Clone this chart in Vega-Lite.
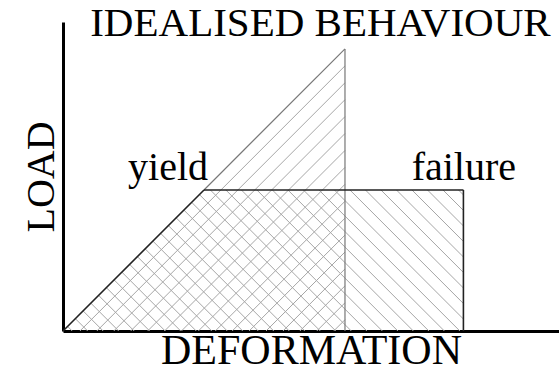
{
  "$schema": "https://vega.github.io/schema/vega-lite/v6.json",
  "width": 496,
  "height": 309,
  "autosize": {"type": "none"},
  "padding": {"left": 63, "top": 22, "right": 0, "bottom": 37},
  "background": "white",
  "config": {
    "view": {"stroke": null},
    "font": "Liberation Serif",
    "axis": {"domainColor": "black", "domainWidth": 3, "ticks": false, "labels": false, "grid": false,
             "titleFont": "Liberation Serif", "titleFontSize": 40, "titleFontWeight": "normal", "titleColor": "black", "titleBaseline": "alphabetic"}
  },
  "datasets": {
    "segments": [
      {"part": "hatch up", "deformation": 1.2, "load": 0, "deformation2": 20, "load2": 18.8},
      {"part": "hatch up", "deformation": 2.4, "load": 0, "deformation2": 20, "load2": 17.6},
      {"part": "hatch up", "deformation": 3.6, "load": 0, "deformation2": 20, "load2": 16.4},
      {"part": "hatch up", "deformation": 4.8, "load": 0, "deformation2": 20, "load2": 15.2},
      {"part": "hatch up", "deformation": 6.0, "load": 0, "deformation2": 20, "load2": 14.0},
      {"part": "hatch up", "deformation": 7.2, "load": 0, "deformation2": 20, "load2": 12.8},
      {"part": "hatch up", "deformation": 8.4, "load": 0, "deformation2": 20, "load2": 11.6},
      {"part": "hatch up", "deformation": 9.6, "load": 0, "deformation2": 20, "load2": 10.4},
      {"part": "hatch up", "deformation": 10.8, "load": 0, "deformation2": 20, "load2": 9.2},
      {"part": "hatch up", "deformation": 12.0, "load": 0, "deformation2": 20, "load2": 8.0},
      {"part": "hatch up", "deformation": 13.2, "load": 0, "deformation2": 20, "load2": 6.8},
      {"part": "hatch up", "deformation": 14.4, "load": 0, "deformation2": 20, "load2": 5.6},
      {"part": "hatch up", "deformation": 15.6, "load": 0, "deformation2": 20, "load2": 4.4},
      {"part": "hatch up", "deformation": 16.8, "load": 0, "deformation2": 20, "load2": 3.2},
      {"part": "hatch up", "deformation": 18.0, "load": 0, "deformation2": 20, "load2": 2.0},
      {"part": "hatch up", "deformation": 19.2, "load": 0, "deformation2": 20, "load2": 0.8},
      {"part": "hatch down", "deformation": 0.325, "load": 0.325, "deformation2": 0.65, "load2": 0},
      {"part": "hatch down", "deformation": 0.875, "load": 0.875, "deformation2": 1.75, "load2": 0},
      {"part": "hatch down", "deformation": 1.425, "load": 1.425, "deformation2": 2.85, "load2": 0},
      {"part": "hatch down", "deformation": 1.975, "load": 1.975, "deformation2": 3.95, "load2": 0},
      {"part": "hatch down", "deformation": 2.525, "load": 2.525, "deformation2": 5.05, "load2": 0},
      {"part": "hatch down", "deformation": 3.075, "load": 3.075, "deformation2": 6.15, "load2": 0},
      {"part": "hatch down", "deformation": 3.625, "load": 3.625, "deformation2": 7.25, "load2": 0},
      {"part": "hatch down", "deformation": 4.175, "load": 4.175, "deformation2": 8.35, "load2": 0},
      {"part": "hatch down", "deformation": 4.725, "load": 4.725, "deformation2": 9.45, "load2": 0},
      {"part": "hatch down", "deformation": 5.275, "load": 5.275, "deformation2": 10.55, "load2": 0},
      {"part": "hatch down", "deformation": 5.825, "load": 5.825, "deformation2": 11.65, "load2": 0},
      {"part": "hatch down", "deformation": 6.375, "load": 6.375, "deformation2": 12.75, "load2": 0},
      {"part": "hatch down", "deformation": 6.925, "load": 6.925, "deformation2": 13.85, "load2": 0},
      {"part": "hatch down", "deformation": 7.475, "load": 7.475, "deformation2": 14.95, "load2": 0},
      {"part": "hatch down", "deformation": 8.025, "load": 8.025, "deformation2": 16.05, "load2": 0},
      {"part": "hatch down", "deformation": 8.575, "load": 8.575, "deformation2": 17.15, "load2": 0},
      {"part": "hatch down", "deformation": 9.125, "load": 9.125, "deformation2": 18.25, "load2": 0},
      {"part": "hatch down", "deformation": 9.675, "load": 9.675, "deformation2": 19.35, "load2": 0},
      {"part": "hatch down", "deformation": 10.45, "load": 10, "deformation2": 20.45, "load2": 0},
      {"part": "hatch down", "deformation": 11.55, "load": 10, "deformation2": 21.55, "load2": 0},
      {"part": "hatch down", "deformation": 12.65, "load": 10, "deformation2": 22.65, "load2": 0},
      {"part": "hatch down", "deformation": 13.75, "load": 10, "deformation2": 23.75, "load2": 0},
      {"part": "hatch down", "deformation": 14.85, "load": 10, "deformation2": 24.85, "load2": 0},
      {"part": "hatch down", "deformation": 15.95, "load": 10, "deformation2": 25.95, "load2": 0},
      {"part": "hatch down", "deformation": 17.05, "load": 10, "deformation2": 27.05, "load2": 0},
      {"part": "hatch down", "deformation": 18.15, "load": 10, "deformation2": 28.15, "load2": 0},
      {"part": "hatch down", "deformation": 19.25, "load": 10, "deformation2": 28.4, "load2": 0.85},
      {"part": "hatch down", "deformation": 20.35, "load": 10, "deformation2": 28.4, "load2": 1.95},
      {"part": "hatch down", "deformation": 21.45, "load": 10, "deformation2": 28.4, "load2": 3.05},
      {"part": "hatch down", "deformation": 22.55, "load": 10, "deformation2": 28.4, "load2": 4.15},
      {"part": "hatch down", "deformation": 23.65, "load": 10, "deformation2": 28.4, "load2": 5.25},
      {"part": "hatch down", "deformation": 24.75, "load": 10, "deformation2": 28.4, "load2": 6.35},
      {"part": "hatch down", "deformation": 25.85, "load": 10, "deformation2": 28.4, "load2": 7.45},
      {"part": "hatch down", "deformation": 26.95, "load": 10, "deformation2": 28.4, "load2": 8.55},
      {"part": "hatch down", "deformation": 28.05, "load": 10, "deformation2": 28.4, "load2": 9.65},
      {"part": "idealised elastic", "deformation": 10, "load": 10, "deformation2": 20, "load2": 20},
      {"part": "idealised elastic", "deformation": 20, "load": 20, "deformation2": 20, "load2": 0},
      {"part": "elastic-plastic", "deformation": 0, "load": 0, "deformation2": 10, "load2": 10},
      {"part": "elastic-plastic", "deformation": 10, "load": 10, "deformation2": 28.4, "load2": 10},
      {"part": "elastic-plastic", "deformation": 28.4, "load": 10, "deformation2": 28.4, "load2": 0}
    ],
    "labels": [
      {"label": "yield", "deformation": 7.45, "load": 10.7, "role": "point"},
      {"label": "failure", "deformation": 28.43, "load": 10.7, "role": "point"},
      {"label": "IDEALISED BEHAVIOUR", "deformation": 18.26, "load": 20.89, "role": "title"}
    ]
  },
  "layer": [
    {
      "data": {"name": "segments"},
      "transform": [{"filter": "datum.part === 'hatch up' || datum.part === 'hatch down'"}],
      "mark": {"type": "rule", "color": "#a6a6a6", "strokeWidth": 1},
      "encoding": {
        "x": {"field": "deformation", "type": "quantitative", "scale": {"domain": [0, 35.18], "nice": false, "zero": false},
              "axis": {"title": "DEFORMATION", "titlePadding": 32, "titleFontSize": 42}},
        "y": {"field": "load", "type": "quantitative", "scale": {"domain": [0, 21.91], "nice": false, "zero": false},
              "axis": {"title": "LOAD", "titlePadding": 10}},
        "x2": {"field": "deformation2"},
        "y2": {"field": "load2"}
      }
    },
    {
      "data": {"name": "segments"},
      "transform": [{"filter": "datum.part === 'idealised elastic'"}],
      "mark": {"type": "rule", "color": "#777777", "strokeWidth": 1.2},
      "encoding": {
        "x": {"field": "deformation", "type": "quantitative"},
        "y": {"field": "load", "type": "quantitative"},
        "x2": {"field": "deformation2"},
        "y2": {"field": "load2"}
      }
    },
    {
      "data": {"name": "segments"},
      "transform": [{"filter": "datum.part === 'elastic-plastic'"}],
      "mark": {"type": "rule", "color": "#222222", "strokeWidth": 1.6},
      "encoding": {
        "x": {"field": "deformation", "type": "quantitative"},
        "y": {"field": "load", "type": "quantitative"},
        "x2": {"field": "deformation2"},
        "y2": {"field": "load2"}
      }
    },
    {
      "data": {"name": "labels"},
      "transform": [{"filter": "datum.role === 'point'"}],
      "mark": {"type": "text", "font": "Liberation Serif", "fontSize": 40, "baseline": "alphabetic", "align": "center", "color": "black"},
      "encoding": {
        "x": {"field": "deformation", "type": "quantitative"},
        "y": {"field": "load", "type": "quantitative"},
        "text": {"field": "label"}
      }
    },
    {
      "data": {"name": "labels"},
      "transform": [{"filter": "datum.role === 'title'"}],
      "mark": {"type": "text", "font": "Liberation Serif", "fontSize": 41, "baseline": "alphabetic", "align": "center", "color": "black"},
      "encoding": {
        "x": {"field": "deformation", "type": "quantitative"},
        "y": {"field": "load", "type": "quantitative"},
        "text": {"field": "label"}
      }
    }
  ]
}
